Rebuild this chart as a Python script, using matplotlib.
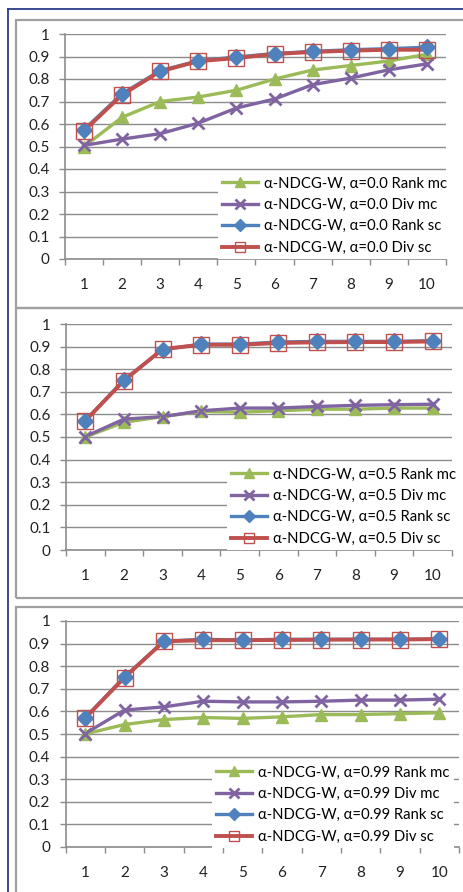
import matplotlib.pyplot as plt
from matplotlib.patches import Rectangle
from matplotlib.lines import Line2D

plt.rcParams['font.family'] = ['Lato', 'DejaVu Sans']

W, H = 464, 892

positions = [1, 2, 3, 4, 5, 6, 7, 8, 9, 10]
alphas = ['0.0', '0.5', '0.99']
series_names = ['Rank mc', 'Div mc', 'Rank sc', 'Div sc']

# alpha = 0.0
a00_rank_mc = [0.50, 0.63, 0.70, 0.72, 0.75, 0.80, 0.84, 0.86, 0.88, 0.91]
a00_div_mc = [0.505, 0.533, 0.557, 0.604, 0.671, 0.711, 0.775, 0.804, 0.841, 0.867]
a00_rank_sc = [0.575, 0.735, 0.837, 0.881, 0.898, 0.913, 0.923, 0.930, 0.935, 0.941]
a00_div_sc = [0.570, 0.730, 0.834, 0.879, 0.893, 0.911, 0.920, 0.926, 0.930, 0.930]

# alpha = 0.5
a05_rank_mc = [0.50, 0.565, 0.59, 0.613, 0.61, 0.616, 0.623, 0.623, 0.628, 0.628]
a05_div_mc = [0.502, 0.579, 0.59, 0.616, 0.628, 0.628, 0.635, 0.64, 0.643, 0.645]
a05_rank_sc = [0.572, 0.753, 0.886, 0.911, 0.911, 0.92, 0.923, 0.923, 0.923, 0.926]
a05_div_sc = [0.572, 0.749, 0.889, 0.908, 0.908, 0.916, 0.919, 0.92, 0.92, 0.923]

# alpha = 0.99
a99_rank_mc = [0.50, 0.542, 0.564, 0.573, 0.569, 0.576, 0.586, 0.586, 0.59, 0.594]
a99_div_mc = [0.502, 0.606, 0.62, 0.645, 0.642, 0.642, 0.645, 0.65, 0.65, 0.654]
a99_rank_sc = [0.572, 0.753, 0.911, 0.919, 0.916, 0.919, 0.919, 0.919, 0.919, 0.92]
a99_div_sc = [0.57, 0.75, 0.91, 0.915, 0.915, 0.916, 0.917, 0.918, 0.918, 0.92]

panels = [
    [a00_rank_mc, a00_div_mc, a00_rank_sc, a00_div_sc],
    [a05_rank_mc, a05_div_mc, a05_rank_sc, a05_div_sc],
    [a99_rank_mc, a99_div_mc, a99_rank_sc, a99_div_sc],
]

y_ticks = [0, 0.1, 0.2, 0.3, 0.4, 0.5, 0.6, 0.7, 0.8, 0.9, 1]
y_labels = ['0', '0.1', '0.2', '0.3', '0.4', '0.5', '0.6', '0.7', '0.8', '0.9', '1']

# style per series: color, marker, marker size (plot / legend), line width
styles = [
    dict(color='#9BBB59', marker='^', ms=9, lms=7, mfc='#9BBB59', mec='#9BBB59', lw=2.4, mew=1.0),
    dict(color='#8064A2', marker='x', ms=9, lms=7, mfc='#8064A2', mec='#8064A2', lw=2.4, mew=2.0),
    dict(color='#4F81BD', marker='D', ms=8, lms=6, mfc='#4F81BD', mec='#4F81BD', lw=2.4, mew=1.0),
    dict(color='#C0504D', marker='s', ms=11.5, lms=7, mfc='none', mec='#C0504D', lw=2.8, mew=1.0),
]

# panel geometry in pixels: axes (left, right, top, bottom), frame (top, bottom), legend box (left, top)
axes_px = [(65, 446, 34, 259), (66, 452, 324, 550), (65.5, 459, 621, 847)]
frame_px = [(20, 308), (308, 598), (607, 905)]
legend_px = [(218, 172), (227, 463), (212, 761)]

GRID = '#8C8C8C'

fig = plt.figure(figsize=(W / 100, H / 100), dpi=100)
fig.patch.set_facecolor('white')

# outer blue border (left and top)
fig.add_artist(Line2D([8 / W, 8 / W], [0, 1 - 9 / H], color='#2B3A8C', lw=1.3))
fig.add_artist(Line2D([8 / W, 1], [1 - 9 / H, 1 - 9 / H], color='#2B3A8C', lw=1.3))

for (ft, fb) in frame_px:
    fig.add_artist(Rectangle((16 / W, 1 - fb / H), (W + 20) / W, (fb - ft) / H,
                             transform=fig.transFigure, fill=False, ec='#A0A0A0', lw=1.6))

for i, data in enumerate(panels):
    l, r, t, b = axes_px[i]
    ax = fig.add_axes([l / W, 1 - b / H, (r - l) / W, (b - t) / H])

    handles = []
    for vals, st, name in zip(data, styles, series_names):
        ax.plot(positions, vals, color=st['color'], lw=st['lw'],
                solid_joinstyle='round', solid_capstyle='round', zorder=2)
        handles.append(Line2D([], [], color=st['color'], lw=st['lw'], marker=st['marker'],
                              ms=st['lms'], mfc=st['mfc'], mec=st['mec'], mew=st['mew'],
                              label=f'α-NDCG-W, α={alphas[i]} {name}'))
    # markers above all lines, like Excel draws them
    for vals, st in zip(data, styles):
        ax.plot(positions, vals, ls='none', marker=st['marker'], ms=st['ms'],
                mfc=st['mfc'], mec=st['mec'], mew=st['mew'], zorder=3)

    ax.set_xlim(0.5, 10.5)
    ax.set_ylim(0, 1)
    ax.set_yticks(y_ticks)
    ax.set_yticklabels(y_labels)
    ax.set_xticks([p + 0.5 for p in [0] + positions])
    ax.set_xticklabels([])
    ax.set_xticks(positions, minor=True)
    ax.set_xticklabels([str(p) for p in positions], minor=True)

    ax.tick_params(axis='y', length=4, width=1.0, color=GRID, pad=7, labelsize=11, labelcolor='#222222')
    ax.tick_params(axis='x', which='major', length=4, width=1.0, color=GRID, direction='out')
    ax.tick_params(axis='x', which='minor', length=0, pad=14, labelsize=11, labelcolor='#222222')

    ax.grid(axis='y', color=GRID, lw=1.0, zorder=0)
    ax.set_axisbelow(True)
    for s in ['top', 'right']:
        ax.spines[s].set_visible(False)
    for s in ['left', 'bottom']:
        ax.spines[s].set_color(GRID)
        ax.spines[s].set_linewidth(1.2)

    lx, ly = legend_px[i]
    leg = ax.legend(handles=handles, loc='upper left',
                    bbox_to_anchor=((lx - l) / (r - l), (b - ly) / (b - t)),
                    borderaxespad=0, frameon=True, fancybox=False, edgecolor='none',
                    facecolor='white', framealpha=1, fontsize=10.7, handlelength=2.4,
                    handletextpad=0.4, labelspacing=0.5, borderpad=0.3)
    leg.set_zorder(5)

fig.savefig('out.png', dpi=100)
